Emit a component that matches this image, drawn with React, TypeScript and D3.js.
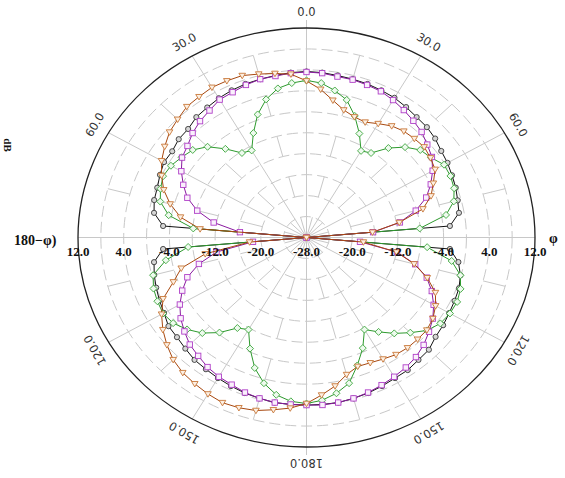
import React from 'react';
import * as d3 from 'd3';

const ANGLES = [0,5,10,15,20,25,30,35,40,45,50,55,60,65,70,75,80,85,90,95,100,105,110,115,120,125,130,135,140,145,150,155,160,165,170,175,180,185,190,195,200,205,210,215,220,225,230,235,240,245,250,255,260,265,270,275,280,285,290,295,300,305,310,315,320,325,330,335,340,345,350,355];

const BLACK_DB = [3.7,3.6,3.4,3.3,3.2,3.0,2.8,2.4,2.0,1.8,1.4,0.8,0.5,0.1,-0.2,-0.6,-0.9,-2.8,-28,-2.8,-1.0,-0.1,0.4,0.6,0.85,1.2,1.5,2.3,2.5,2.9,3.0,3.3,3.6,3.8,4.0,4.0,4.0,4.0,4.0,3.8,3.6,3.3,3.0,2.7,2.5,2.0,1.6,1.5,0.8,0.4,0.0,-0.4,-0.9,-2.8,-28,-2.8,-0.9,-0.4,-0.2,0.3,0.8,0.7,1.2,1.3,2.0,2.3,2.7,3.0,3.2,3.3,3.4,3.6];

const PURPLE_DB = [3.6,3.5,3.2,3.2,3.0,2.8,2.3,1.7,1.1,0.5,-0.4,-1.2,-2.5,-4.0,-5.7,-8.2,-11.4,-16.3,-28,-18.6,-11.9,-8.3,-5.6,-3.8,-2.3,-1.0,0.0,1.0,1.8,2.3,2.7,3.1,3.5,3.8,4.0,4.1,4.0,4.0,4.0,3.8,3.5,3.0,2.7,2.2,1.5,0.9,-0.1,-1.1,-2.4,-4.0,-5.8,-8.5,-12.0,-18.6,-28,-16.3,-11.5,-8.2,-5.8,-4.2,-2.7,-1.4,-0.8,0.2,1.0,1.6,2.4,2.6,3.0,3.3,3.3,3.5];

const GREEN_DB = [2.0,1.6,0.5,-0.8,-3.3,-6.1,-8.9,-8.3,-5.7,-3.6,-2.0,-1.4,-0.2,-0.2,-0.5,-1.3,-3.2,-8.1,-28,-6.8,-2.2,-0.1,0.7,1.1,1.0,0.6,-0.4,-2.3,-4.1,-6.0,-7.7,-4.7,-2.0,0.8,2.2,3.2,3.7,3.4,2.5,0.8,-1.5,-4.6,-7.7,-6.9,-4.3,-2.2,-0.7,0.5,1.0,0.8,0.5,-0.2,-3.0,-7.2,-28,-8.1,-3.5,-1.5,-0.8,-0.3,-0.6,-1.3,-2.0,-3.5,-5.9,-8.3,-8.8,-6.0,-3.0,-0.7,0.9,1.6];

const BROWN_DB = [1.9,0.4,-1.4,-2.8,-3.5,-3.7,-2.9,-2.0,-1.5,-1.3,-1.1,-1.5,-2.0,-3.5,-4.8,-6.9,-11.5,-16.4,-28,-18,-12,-8.5,-5.5,-3.1,-1.9,-1.0,-0.5,-0.5,-0.5,-0.7,-1.2,-1.6,-1.8,-0.9,0.8,2.2,3.7,4.7,5.4,6.2,6.6,6.8,6.5,6.1,5.7,5.0,3.9,2.7,1.3,-0.3,-3.2,-5.3,-10,-18,-28,-9.3,-5.6,-3.3,-1.4,0.0,1.3,2.3,3.3,3.9,4.6,4.8,5.1,5.0,4.9,4.3,3.8,3.3];

const GRID_DB = [-24,-20,-16,-12,-8,-4,0,4,8];
const RADIAL_LABELS = [12,4,-4,-12,-20];
const ANGLE_TICKS = [0,30,60,120,150,180,210,240,300,330];
const SPOKES = [0,30,60,90,120,150,180,210,240,270,300,330];

const W = 565, H = 478;
const CX = 306.5, CY = 237.5, RX = 228.5, RY = 209.5;

const rx = d3.scaleLinear().domain([-28, 12]).range([0, RX]).clamp(true);
const ry = d3.scaleLinear().domain([-28, 12]).range([0, RY]).clamp(true);
const rad = (a: number) => (a * Math.PI) / 180;
const px = (a: number, db: number) => CX + rx(db) * Math.sin(rad(a));
const py = (a: number, db: number) => CY - ry(db) * Math.cos(rad(a));

type Series = { name: string; values: number[]; line: string; mStroke: string; mFill: string; marker: string };
const SERIES: Series[] = [
  { name: 'black', values: BLACK_DB, line: '#111111', mStroke: '#3a3a3a', mFill: '#d6d6d6', marker: 'circle' },
  { name: 'green', values: GREEN_DB, line: '#2e9a2e', mStroke: '#3aa53a', mFill: '#eefaee', marker: 'diamond' },
  { name: 'purple', values: PURPLE_DB, line: '#8a1aa0', mStroke: '#b040c8', mFill: '#faf0fc', marker: 'square' },
  { name: 'brown', values: BROWN_DB, line: '#a8480f', mStroke: '#c8783a', mFill: '#fcefe2', marker: 'triangle' },
];

function Marker({ x, y, type, stroke, fill }: { x: number; y: number; type: string; stroke: string; fill: string }) {
  if (type === 'circle') return <circle cx={x} cy={y} r={2.6} stroke={stroke} fill={fill} strokeWidth={0.9} />;
  if (type === 'square') return <rect x={x - 2.7} y={y - 2.7} width={5.4} height={5.4} stroke={stroke} fill={fill} strokeWidth={0.9} />;
  if (type === 'diamond') return <path d={`M${x},${y - 3.5}L${x + 3.5},${y}L${x},${y + 3.5}L${x - 3.5},${y}Z`} stroke={stroke} fill={fill} strokeWidth={0.9} />;
  return <path d={`M${x - 3.3},${y - 2.3}L${x + 3.3},${y - 2.3}L${x},${y + 3.2}Z`} stroke={stroke} fill={fill} strokeWidth={0.9} />;
}

export default function App() {
  const line = d3
    .line<number>()
    .x((d, i) => px(ANGLES[i], d))
    .y((d, i) => py(ANGLES[i], d))
    .curve(d3.curveLinearClosed);

  const minor: React.ReactElement[] = [];
  const ringEdges = [-28, ...GRID_DB, 12];
  for (let k = 0; k < ringEdges.length - 1; k++) {
    const a0 = k % 2 === 0 ? 15 : 0;
    for (let a = a0; a < 360; a += 30) {
      if (a % 30 === 0) continue;
      minor.push(
        <line key={`m${k}-${a}`} x1={px(a, ringEdges[k])} y1={py(a, ringEdges[k])} x2={px(a, ringEdges[k + 1])} y2={py(a, ringEdges[k + 1])} stroke="#c8c8c8" strokeWidth={1} />
      );
    }
  }

  return (
    <svg width={W} height={H} style={{ position: 'absolute', left: 0, top: 0, background: '#fff' }}>
      <rect x={0} y={0} width={W} height={H} fill="#fff" />
      {GRID_DB.map((g) => (
        <ellipse key={g} cx={CX} cy={CY} rx={rx(g)} ry={ry(g)} fill="none" stroke="#c8c8c8" strokeWidth={1} strokeDasharray="11,5" />
      ))}
      {minor}
      {SPOKES.map((a) => {
        const ext = a % 180 === 0 ? 8 : 0;
        const x2 = CX + (RX + ext) * Math.sin(rad(a));
        const y2 = CY - (RY + ext) * Math.cos(rad(a));
        return <line key={a} x1={CX} y1={CY} x2={x2} y2={y2} stroke="#c8c8c8" strokeWidth={1} />;
      })}
      <ellipse cx={CX} cy={CY} rx={RX} ry={RY} fill="none" stroke="#222" strokeWidth={1.3} />

      {SERIES.map((s) => (
        <g key={s.name}>
          <path d={line(s.values) || ''} fill="none" stroke={s.line} strokeWidth={1} />
          {s.values.map((v, i) => (
            <Marker key={i} x={px(ANGLES[i], v)} y={py(ANGLES[i], v)} type={s.marker} stroke={s.mStroke} fill={s.mFill} />
          ))}
        </g>
      ))}

      {RADIAL_LABELS.map((v) => (
        <g key={v}>
          <text x={px(270, v)} y={256} textAnchor="middle" fontFamily="Liberation Serif" fontWeight="bold" fontSize={13} fill="#111">{v.toFixed(1)}</text>
          <text x={px(90, v)} y={256} textAnchor="middle" fontFamily="Liberation Serif" fontWeight="bold" fontSize={13} fill="#111">{v.toFixed(1)}</text>
        </g>
      ))}
      <text x={CX} y={256} textAnchor="middle" fontFamily="Liberation Serif" fontWeight="bold" fontSize={13} fill="#111">-28.0</text>

      {ANGLE_TICKS.map((a) => {
        const d = 16;
        const x = CX + (RX + d) * Math.sin(rad(a));
        const y = CY - (RY + d) * Math.cos(rad(a));
        const rot = a <= 180 ? a : a - 360;
        const label = (a <= 180 ? a : 360 - a).toFixed(1);
        return (
          <text key={a} x={x} y={y} transform={`rotate(${rot},${x},${y})`} textAnchor="middle" dominantBaseline="central" fontFamily="DejaVu Sans" fontSize={11.5} fill="#333">{label}</text>
        );
      })}

      <text x={14} y={245} fontFamily="Liberation Serif" fontWeight="bold" fontSize={14} fill="#111">180−φ)</text>
      <text x={549} y={243} fontFamily="Liberation Serif" fontWeight="bold" fontSize={14} fill="#111">φ</text>
      <text x={0} y={0} transform="translate(4,145) rotate(90)" textAnchor="middle" fontFamily="Liberation Serif" fontWeight="bold" fontSize={11} fill="#111">dB</text>
    </svg>
  );
}
